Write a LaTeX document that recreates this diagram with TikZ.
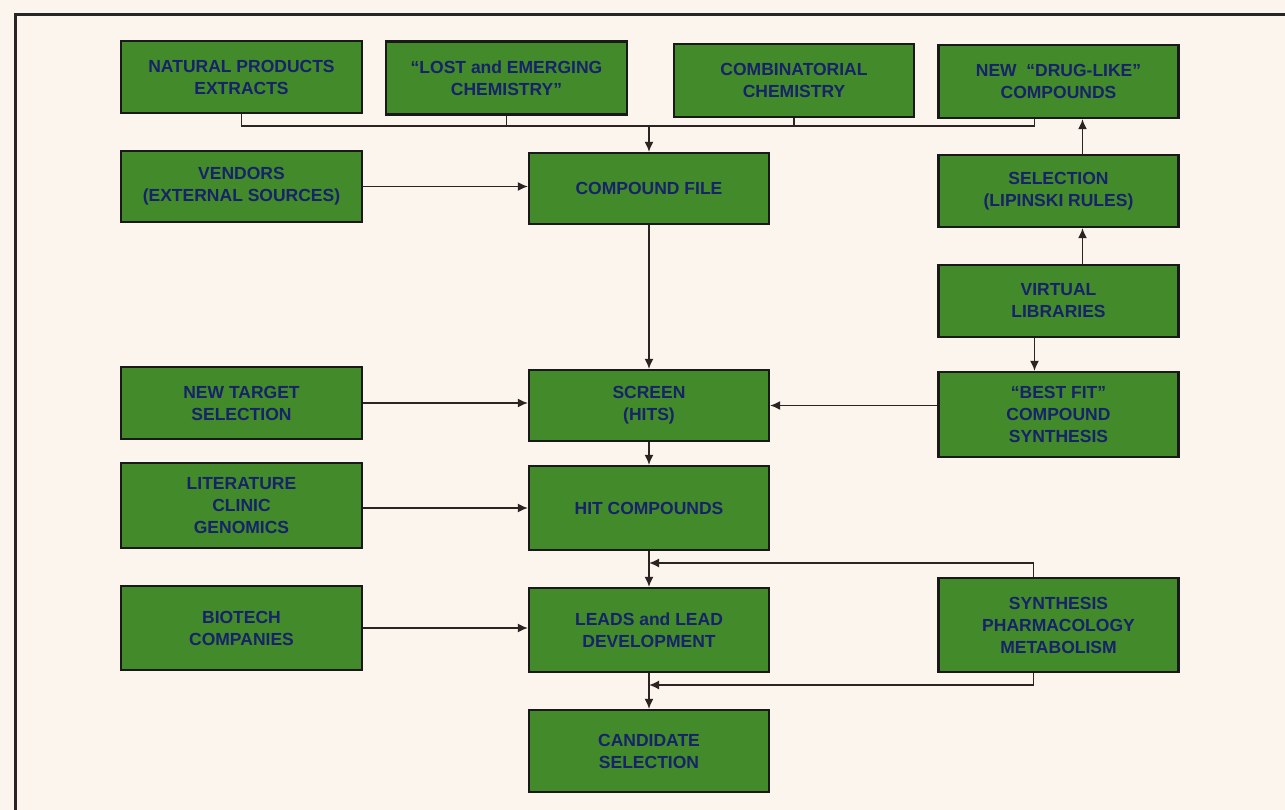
\documentclass[tikz,border=0pt]{standalone}
\usepackage{fontspec}
\setmainfont{Liberation Sans}
\usetikzlibrary{arrows.meta}
\definecolor{paper}{RGB}{251,245,237}
\definecolor{boxgreen}{RGB}{66,138,42}
\definecolor{ink}{RGB}{22,34,105}
\definecolor{wire}{RGB}{45,35,35}
\tikzset{
  box/.style={draw=black!90, line width=2.2pt, fill=boxgreen, text=ink,
    font=\bfseries\fontsize{17.5}{22}\selectfont, align=center, inner sep=0pt},
  conn/.style={draw=wire, line width=1.6pt},
  arr/.style={conn, -{Latex[length=10pt,width=9pt]}},
  frame/.style={draw=black!85, line width=3pt}
}
\begin{document}
\begin{tikzpicture}[x=1pt,y=-1pt]
\useasboundingbox (0,0) rectangle (1285,810);
\fill[paper] (0,0) rectangle (1285,810);
\draw[frame] (15,810) -- (15,15) -- (1285,15);

% row 1
\node[box, minimum width=241, minimum height=72] (nat) at (241.5,77) {NATURAL PRODUCTS\\EXTRACTS};
\node[box, minimum width=241, minimum height=73] (lost) at (506.5,78) {“LOST and EMERGING\\CHEMISTRY”};
\node[box, minimum width=240, minimum height=73] (comb) at (794,80.5) {COMBINATORIAL\\CHEMISTRY};
\node[box, minimum width=240, minimum height=73] (drug) at (1058.5,81.5) {NEW \ “DRUG-LIKE”\\COMPOUNDS};
% row 2
\node[box, minimum width=241, minimum height=71] (vend) at (241.5,186.5) {VENDORS\\(EXTERNAL SOURCES)};
\node[box, minimum width=240, minimum height=71] (file) at (649,188.5) {COMPOUND FILE};
\node[box, minimum width=240, minimum height=72] (sel) at (1058.5,191) {SELECTION\\(LIPINSKI RULES)};
% row 3
\node[box, minimum width=240, minimum height=72] (virt) at (1058.5,301) {VIRTUAL\\LIBRARIES};
% row 4
\node[box, minimum width=241, minimum height=72] (newt) at (241.5,403) {NEW TARGET\\SELECTION};
\node[box, minimum width=240, minimum height=71] (scr) at (649,405.5) {SCREEN\\(HITS)};
\node[box, minimum width=240, minimum height=85] (best) at (1058.5,414.5) {“BEST FIT”\\COMPOUND\\SYNTHESIS};
% row 5
\node[box, minimum width=241, minimum height=85] (lit) at (241.5,505.5) {LITERATURE\\CLINIC\\GENOMICS};
\node[box, minimum width=240, minimum height=84] (hit) at (649,508) {HIT COMPOUNDS};
% row 6
\node[box, minimum width=241, minimum height=84] (bio) at (241.5,628) {BIOTECH\\COMPANIES};
\node[box, minimum width=240, minimum height=84] (lead) at (649,630) {LEADS and LEAD\\DEVELOPMENT};
\node[box, minimum width=240, minimum height=94] (syn) at (1058.5,625) {SYNTHESIS\\PHARMACOLOGY\\METABOLISM};
% row 7
\node[box, minimum width=240, minimum height=82] (cand) at (649,751) {CANDIDATE\\SELECTION};

% top collecting bus
\coordinate (bus) at (649,126);
\draw[conn] (nat.south) |- (bus);
\draw[conn] ([xshift=-24]drug.south) |- (bus);
\draw[conn] (lost.south) -- (lost.south |- bus);
\draw[conn] (comb.south) -- (comb.south |- bus);
\draw[arr] (bus) -- (file.north);

% left inputs
\draw[arr] (vend.east) -- (vend.east -| file.west);
\draw[arr] (newt.east) -- (newt.east -| scr.west);
\draw[arr] (lit.east |- hit.west) -- (hit.west);
\draw[arr] (bio.east) -- (bio.east -| lead.west);

% main chain
\draw[arr] (file.south) -- (scr.north);
\draw[arr] (scr.south) -- (hit.north);
\draw[arr] (hit.south) -- (lead.north);
\draw[arr] (lead.south) -- (cand.north);

% right column
\draw[arr] ([xshift=24]sel.north) -- ([xshift=24]drug.south);
\draw[arr] ([xshift=24]virt.north) -- ([xshift=24]sel.south);
\draw[arr] ([xshift=-24]virt.south) -- ([xshift=-24]best.north);
\draw[arr] (best.west |- scr.east) -- (scr.east);

% feedback loops
\coordinate (fb1) at (649,563);
\coordinate (fb2) at (649,685);
\draw[arr] ([xshift=-25]syn.north) |- (fb1);
\draw[arr] ([xshift=-25]syn.south) |- (fb2);
\end{tikzpicture}
\end{document}
